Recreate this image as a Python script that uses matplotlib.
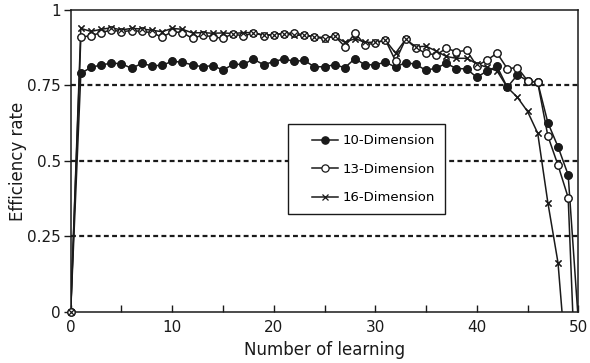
import numpy as np
import matplotlib
matplotlib.use("Agg")
import matplotlib.pyplot as plt
from matplotlib.ticker import FixedLocator, FixedFormatter, MultipleLocator
from matplotlib.legend_handler import HandlerLine2D

x = list(range(0, 51))

dim10 = [0.0, 0.790, 0.810, 0.818, 0.824, 0.822, 0.807, 0.823, 0.815, 0.817,
         0.830, 0.827, 0.818, 0.812, 0.816, 0.801, 0.820, 0.820, 0.837, 0.819,
         0.829, 0.838, 0.830, 0.833, 0.812, 0.812, 0.819, 0.809, 0.839, 0.818,
         0.819, 0.827, 0.811, 0.826, 0.820, 0.800, 0.808, 0.823, 0.806, 0.805,
         0.777, 0.798, 0.813, 0.744, 0.785, 0.766, 0.760, 0.627, 0.547, 0.454,
         -0.03]
dim13 = [0.0, 0.910, 0.915, 0.925, 0.934, 0.928, 0.932, 0.929, 0.925, 0.910,
         0.928, 0.925, 0.906, 0.917, 0.911, 0.906, 0.922, 0.913, 0.925, 0.915,
         0.918, 0.922, 0.924, 0.917, 0.912, 0.908, 0.914, 0.879, 0.923, 0.885,
         0.890, 0.901, 0.831, 0.904, 0.873, 0.857, 0.851, 0.873, 0.862, 0.866,
         0.815, 0.834, 0.857, 0.806, 0.809, 0.766, 0.760, 0.583, 0.486, 0.379,
         -0.46]
dim16 = [0.0, 0.939, 0.929, 0.936, 0.941, 0.934, 0.939, 0.937, 0.933, 0.928,
         0.939, 0.936, 0.924, 0.925, 0.923, 0.924, 0.922, 0.925, 0.925, 0.917,
         0.918, 0.922, 0.916, 0.917, 0.910, 0.905, 0.913, 0.893, 0.905, 0.893,
         0.893, 0.900, 0.857, 0.903, 0.878, 0.880, 0.864, 0.846, 0.840, 0.840,
         0.822, 0.810, 0.798, 0.744, 0.711, 0.664, 0.592, 0.362, 0.163, -0.25,
         np.nan]

series_labels = ["10-Dimension", "13-Dimension", "16-Dimension"]
y_ticks = [0, 0.25, 0.5, 0.75, 1]
y_tick_labels = ["0", "0.25", "0.5", "0.75", "1"]
x_ticks = [0, 10, 20, 30, 40, 50]
x_tick_labels = ["0", "10", "20", "30", "40", "50"]

plt.rcParams['font.family'] = ['DejaVu Sans']
FS = 11
LFS = 9.5
INK = '#1a1a1a'


class ShiftedHandler(HandlerLine2D):
    """Line handler that leaves an empty gap on the left of the handle box."""
    def __init__(self, shift, **kw):
        super().__init__(**kw)
        self.shift = shift

    def create_artists(self, legend, orig_handle, xdescent, ydescent, width,
                       height, fontsize, trans):
        s = self.shift * fontsize
        return super().create_artists(legend, orig_handle, xdescent - s, ydescent,
                                      width - s, height, fontsize, trans)


fig = plt.figure(figsize=(5.9, 3.63), dpi=100)
ax = fig.add_axes([0.1198, 0.1405, 0.8604, 0.832])

styles = [
    dict(marker='o', markersize=5.2, markerfacecolor=INK, markeredgecolor=INK),
    dict(marker='o', markersize=5.2, markerfacecolor='white', markeredgecolor=INK, markeredgewidth=0.9),
    dict(marker='x', markersize=5.0, markeredgecolor=INK, markeredgewidth=0.9),
]

lines = []
for vals, lab, st in zip([dim10, dim13, dim16], series_labels, styles):
    xv = np.array(x, dtype=float)
    yv = np.array(vals, dtype=float)
    ln, = ax.plot(xv, yv, color=INK, lw=1.1, label=lab, clip_on=True, **st)
    lines.append(ln)
    keep = yv >= 0
    ax.plot(xv[keep], yv[keep], linestyle='none', clip_on=False, zorder=3, **st)

ax.set_xlim(0, 50)
ax.set_ylim(0, 1)

ax.xaxis.set_major_locator(FixedLocator(x_ticks))
ax.xaxis.set_major_formatter(FixedFormatter(x_tick_labels))
ax.xaxis.set_minor_locator(MultipleLocator(5))
ax.yaxis.set_major_locator(FixedLocator(y_ticks))
ax.yaxis.set_major_formatter(FixedFormatter(y_tick_labels))

ax.tick_params(axis='x', which='both', direction='in', length=5, width=1.0,
               labelsize=FS, pad=5.8, colors=INK)
ax.tick_params(axis='y', which='both', direction='out', length=5, width=1.0,
               labelsize=FS, pad=2, colors=INK)

for y in y_ticks[1:-1]:
    ax.axhline(y, color=INK, lw=1.6, linestyle=(0, (2.2, 1.5)), zorder=0.5)

for sp in ax.spines.values():
    sp.set_linewidth(1.1)
    sp.set_color(INK)

ax.set_xlabel("Number of learning", fontsize=12, labelpad=4, color=INK)
ax.set_ylabel("Efficiency rate", fontsize=12, labelpad=0, color=INK)

leg = ax.legend(handles=lines, loc='upper left', bbox_to_anchor=(0.4287, 0.6215),
                fontsize=LFS, frameon=True, fancybox=False, framealpha=1,
                edgecolor=INK, handlelength=3.03, handletextpad=0.3,
                borderpad=0.75, labelspacing=1.18, borderaxespad=0,
                handler_map={ln: ShiftedHandler(1.06) for ln in lines})
leg.get_frame().set_linewidth(1.0)

fig.savefig("out.png", dpi=100)
